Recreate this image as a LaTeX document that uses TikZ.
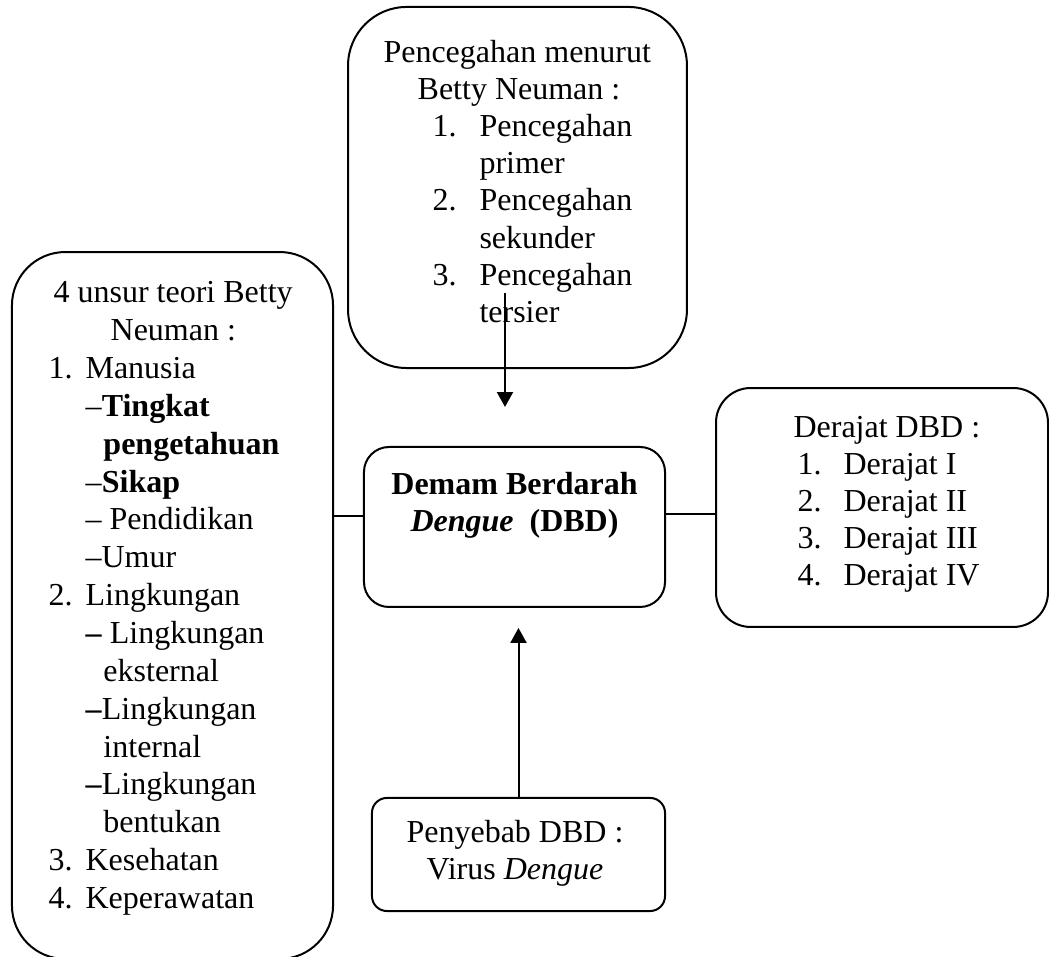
\documentclass[tikz,border=0pt]{standalone}
\usepackage{fontspec}
\setmainfont{Liberation Serif}
\usetikzlibrary{positioning,arrows.meta}

\begin{document}
\begin{tikzpicture}[
    x=0.375pt, y=-0.375pt,
    kotak/.style={draw, line width=0.75pt, inner sep=0pt},
    isi/.style={inner sep=0pt, font=\fontsize{12}{13.9}\selectfont},
    panah/.style={line width=0.75pt, -{Triangle[length=5.6pt,width=6pt]}},
    garis/.style={line width=0.75pt}
]
\useasboundingbox (0,0) rectangle (1049,957);

% Define box positions
\node[kotak, rounded corners=22pt, minimum width=127.1pt, minimum height=135.4pt] (cegah) at (517.5,187.5) {};
\node[kotak, rounded corners=20pt, minimum width=120.4pt, minimum height=265.1pt] (unsur) at (172.5,605.5) {};
\node[kotak, rounded corners=9.4pt, minimum width=112.9pt, minimum height=60pt] (dbd) at (514.5,527) {};
\node[kotak, rounded corners=13pt, minimum width=124.5pt, minimum height=89.6pt] (derajat) at (882,507.5) {};
\node[kotak, rounded corners=5.6pt, minimum width=109.9pt, minimum height=42.4pt] (sebab) at (518.5,854.5) {};

% Add texts inside boxes
\node[isi, anchor=north west, align=left] (cegahTeks) at (383,40) {Pencegahan menurut\\
\hspace*{12.8pt}Betty Neuman :\\
\hspace*{18.4pt}\makebox[17.6pt][l]{1.}Pencegahan\\
\hspace*{36pt}primer\\
\hspace*{18.4pt}\makebox[17.6pt][l]{2.}Pencegahan\\
\hspace*{36pt}sekunder\\
\hspace*{18.4pt}\makebox[17.6pt][l]{3.}Pencegahan\\
\hspace*{36pt}tersier};

\node[isi, font=\fontsize{12}{14.2}\selectfont, anchor=north west, align=left] (unsurTeks) at (48,281) {\hspace*{1.9pt}4 unsur teori Betty\\
\hspace*{23.3pt}Neuman :\\
\makebox[13.9pt][l]{1.}Manusia\\
\hspace*{13.9pt}–\textbf{Tingkat}\\
\hspace*{20.6pt}\textbf{pengetahuan}\\
\hspace*{13.9pt}–\textbf{Sikap}\\
\hspace*{13.9pt}– Pendidikan\\
\hspace*{13.9pt}–Umur\\
\makebox[13.9pt][l]{2.}Lingkungan\\
\hspace*{13.9pt}\textbf{–} Lingkungan\\
\hspace*{20.6pt}eksternal\\
\hspace*{13.9pt}\textbf{–}Lingkungan\\
\hspace*{20.6pt}internal\\
\hspace*{13.9pt}\textbf{–}Lingkungan\\
\hspace*{20.6pt}bentukan\\
\makebox[13.9pt][l]{3.}Kesehatan\\
\makebox[13.9pt][l]{4.}Keperawatan};

\node[isi, anchor=north, align=center] (dbdTeks) at (514.5,472) {\textbf{Demam Berdarah}\\
\textbf{\textit{Dengue}}\ \ \textbf{(DBD)}};

\node[isi, anchor=north west, align=left] (derajatTeks) at (793,416) {Derajat DBD :\\
\hspace*{1.5pt}\makebox[17.3pt][l]{1.}Derajat I\\
\hspace*{1.5pt}\makebox[17.3pt][l]{2.}Derajat II\\
\hspace*{1.5pt}\makebox[17.3pt][l]{3.}Derajat III\\
\hspace*{1.5pt}\makebox[17.3pt][l]{4.}Derajat IV};

\node[isi, anchor=north, align=center] (sebabTeks) at (515,820) {Penyebab DBD :\\
Virus \textit{Dengue}};

% Connectors
\coordinate (atasPangkal) at (505,293);
\coordinate (atasUjung) at (505,407);
\coordinate (bawahUjung) at (518.5,628);
\coordinate (kiri) at (364,516);
\coordinate (kanan) at (665,514);

\draw[panah] (atasPangkal) -- (atasUjung);
\draw[panah] (sebab.north) -- (bawahUjung);
\draw[garis] (unsur.east |- kiri) -- (dbd.west |- kiri);
\draw[garis] (dbd.east |- kanan) -- (derajat.west |- kanan);

\end{tikzpicture}
\end{document}
